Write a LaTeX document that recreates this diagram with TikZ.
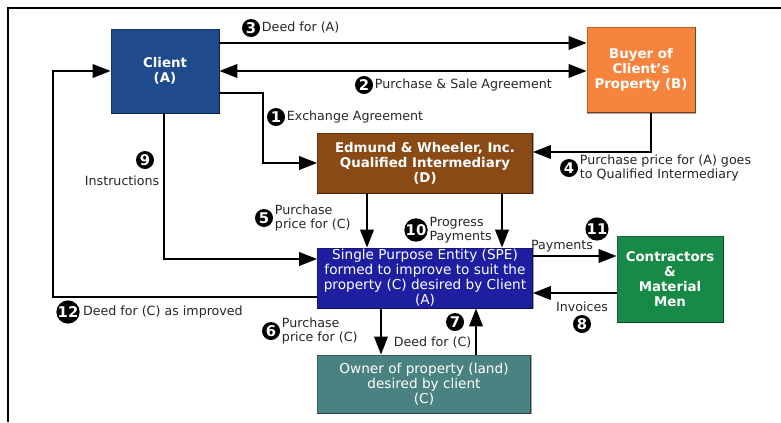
\documentclass[tikz,border=0pt]{standalone}
\usepackage{fontspec}
\setmainfont{DejaVu Sans}
\usetikzlibrary{arrows.meta, positioning}

\definecolor{clientblue}{HTML}{1F4B8E}
\definecolor{buyerorange}{HTML}{F5843F}
\definecolor{qibrown}{HTML}{8A4A16}
\definecolor{speblue}{HTML}{1E1EA0}
\definecolor{contrgreen}{HTML}{178A47}
\definecolor{ownerteal}{HTML}{4A8282}

\tikzset{
  box/.style={draw=#1!75!black, line width=0.6pt, fill=#1, text=white,
    font=\bfseries\fontsize{9.5}{10.6}\selectfont, align=center, inner sep=1pt},
  plainbox/.style={box=#1, font=\fontsize{9.7}{10.6}\selectfont},
  flow/.style={line width=1.4pt},
  num/.style={circle, fill=black, text=white, font=\bfseries\fontsize{10.5}{10.5}\selectfont,
    inner sep=0pt, minimum size=0.45cm},
  lbl/.style={font=\fontsize{9}{9.8}\selectfont, text=black!85, align=left, inner sep=1pt},
}

\begin{document}
\begin{tikzpicture}[x=0.025cm, y=-0.025cm, >={Triangle[length=0.45cm,width=0.34cm]}]
    \useasboundingbox (0,0) rectangle (781,422);

    % Kader
    \draw[line width=2pt] (8,422) -- (8,8) -- (781,8);

    % Partijen
    \node[box=clientblue, minimum width=2.7cm, minimum height=2.1cm] (client) at (165,71) {Client\\(A)};
    \node[box=buyerorange, minimum width=2.7cm, minimum height=2.125cm] (buyer) at (641,70) {Buyer of\\Client's\\Property (B)};
    \node[box=qibrown, minimum width=5.375cm, minimum height=1.5cm] (qi) at (425,163) {Edmund \& Wheeler, Inc.\\Qualified Intermediary\\(D)};
    \node[plainbox=speblue, minimum width=5.375cm, minimum height=1.5cm] (spe) at (425,278) {Single Purpose Entity (SPE)\\formed to improve to suit the\\property (C) desired by Client\\(A)};
    \node[box=contrgreen, minimum width=2.65cm, minimum height=2.15cm] (contr) at (670,279) {Contractors\\\&\\Material\\Men};
    \node[plainbox=ownerteal, minimum width=5.325cm, minimum height=1.45cm] (owner) at (424,384) {Owner of property (land)\\desired by client\\(C)};

    % Schaduwrand onder en rechts
    \foreach \b in {client, buyer, qi, spe, contr, owner}
        \draw[black, opacity=0.35, line width=1.2pt] (\b.north east) -- (\b.south east) -- (\b.south west);

    % Stappen (nummers)
    \foreach \n/\x/\y in {1/276/117, 2/364/85, 3/251/28, 4/569/168, 5/264/218, 6/271/331,
                          7/455/322, 8/582/324, 9/145/160, 10/416/230, 11/597/229, 12/68/312}
        \node[num] (n\n) at (\x,\y) {\n};

    % Teksten bij de stappen
    \node[lbl, right=0pt of n1] (t1) {Exchange Agreement};
    \node[lbl, right=0pt of n2] (t2) {Purchase \& Sale Agreement};
    \node[lbl, right=0pt of n3] (t3) {Deed for (A)};
    \node[lbl, right=0pt of n4] (t4) {Purchase price for (A) goes\\to Qualified Intermediary};
    \node[lbl, right=0pt of n5] (t5) {Purchase\\price for (C)};
    \node[lbl, right=0pt of n6] (t6) {Purchase\\price for (C)};
    \node[lbl, anchor=east] (t7) at (473,343) {Deed for (C)};
    \node[lbl, above=1pt of n8] (t8) {Invoices};
    \node[lbl, anchor=east] (t9) at (161,181) {Instructions};
    \node[lbl, right=0pt of n10] (t10) {Progress\\Payments};
    \node[lbl] (t11) at (562,246) {Payments};
    \node[lbl, right=1pt of n12] (t12) {Deed for (C) as improved};

    % Verbindingen
    \draw[flow,->] (client.east |- 0,43) -- (buyer.west |- 0,43); % 3
    \draw[flow,<->] (client.east) -- (buyer.west |- client.east); % 2
    \draw[flow,->] (client.east |- 0,93) -| (263,163) -- (qi.west); % 1
    \draw[flow,->] (buyer.south -| 651,0) |- (qi.east |- 0,152); % 4
    \draw[flow,->] (qi.south -| 367,0) -- (spe.north -| 367,0); % 5
    \draw[flow,->] (spe.south -| 381,0) -- (owner.north -| 381,0); % 6
    \draw[flow,->] (owner.north -| 476,0) -- (spe.south -| 476,0); % 7
    \draw[flow,->] (contr.west |- 0,293) -- (spe.east |- 0,293); % 8
    \draw[flow,->] (client.south -| 164,0) |- (spe.west |- 0,259); % 9
    \draw[flow,->] (qi.south -| 502,0) -- (spe.north -| 502,0); % 10
    \draw[flow,->] (spe.east |- 0,256) -- (contr.west |- 0,256); % 11
    \draw[flow,->] (spe.west |- 0,297) -| (53,71) -- (client.west); % 12
\end{tikzpicture}
\end{document}
